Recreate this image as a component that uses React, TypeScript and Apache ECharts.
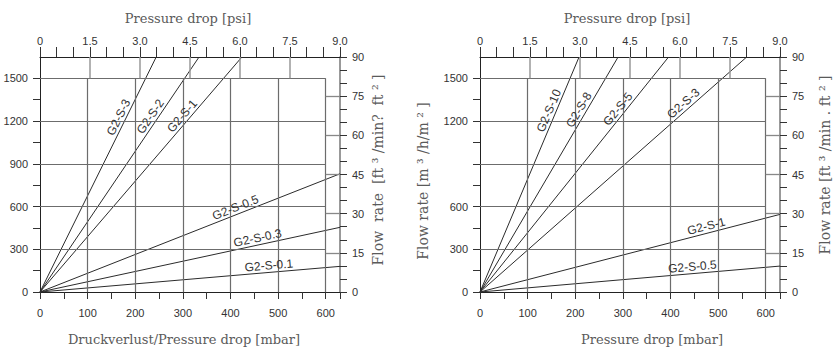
import React, { useEffect, useRef } from "react";
import * as echarts from "echarts";

// ---- tick / label values ----
const MBAR_LABELS = [0, 100, 200, 300, 400, 500, 600];
const MBAR_GRID = [100, 200, 300, 400, 500, 600];
const PSI_LABELS = [0, 1.5, 3, 4.5, 6, 7.5, 9];
const PSI_GRID = [1.5, 3, 4.5, 6, 7.5];
const FT_LABELS = [0, 15, 30, 45, 60, 75, 90];
const FT_INNER_TICKS = [15, 30, 45, 60, 75];
const FLOW_LABELS_LEFT = [0, 300, 600, 900, 1200, 1500];
const FLOW_LABELS_RIGHT = [0, 300, 600, 1200, 1500];
const FLOW_GRID = [300, 600, 900, 1200, 1500];
const FLOW_TICKS = [0, 150, 300, 450, 600, 750, 900, 1050, 1200, 1350, 1500];

// ---- series (left panel) ----
const LEFT_NAMES = ["G2-S-3", "G2-S-2", "G2-S-1", "G2-S-0.5", "G2-S-0.3", "G2-S-0.1"];
const LEFT_END_MBAR = [244, 334, 424, 630, 630, 630];
const LEFT_END_FLOW = [1650, 1650, 1650, 830, 454, 180];
const LEFT_LABEL_AT = [0.73, 0.73, 0.73, 0.66, 0.73, 0.765];

// ---- series (right panel) ----
const RIGHT_NAMES = ["G2-S-10", "G2-S-8", "G2-S-5", "G2-S-3", "G2-S-1", "G2-S-0.5"];
const RIGHT_END_MBAR = [208, 290, 396, 560, 630, 630];
const RIGHT_END_FLOW = [1650, 1650, 1650, 1650, 545, 182];
const RIGHT_LABEL_AT = [0.76, 0.76, 0.76, 0.78, 0.76, 0.71];

// ---- scales ----
const X_MAX = 630;
const Y_MAX = 1650;
const FT_MAX = 90;
const PSI_MAX = 9;
const GRID_TOP = 57;
const GRID_W = 300;
const GRID_H = 235;

const TICK_FONT = "'Liberation Sans Narrow', 'Arial Narrow', 'Liberation Sans', Arial, sans-serif";
const LABEL_FONT = "'Liberation Sans', Arial, sans-serif";
const TITLE_FONT = "'DejaVu Serif', serif";
const TICK_COLOR = "#333";
const GRID_COLOR = "#6c6c6c";

const near = (a: number, b: number) => Math.abs(a - b) < 1e-6;

function panel(p: number, gridLeft: number, names: string[], endX: number[], endY: number[], labelAt: number[], flowLabels: number[]) {
  const grid = { left: gridLeft, top: GRID_TOP, width: GRID_W, height: GRID_H, containLabel: false };
  const tickLabel = { color: TICK_COLOR, fontSize: 11, fontFamily: TICK_FONT };
  const xAxes = [
    {
      type: "value", gridIndex: p, position: "bottom", min: 0, max: X_MAX, interval: 50,
      axisLine: { show: true, onZero: false, lineStyle: { color: "#222", width: 1 } },
      axisTick: { show: true, length: 7, lineStyle: { color: "#333", width: 1 } },
      axisLabel: { ...tickLabel, margin: 15, formatter: (v: number) => (MBAR_LABELS.some((m) => near(m, v)) ? String(v) : "") },
      splitLine: { show: false },
    },
    {
      type: "value", gridIndex: p, position: "top", min: 0, max: PSI_MAX, interval: 0.5,
      axisLine: { show: true, onZero: false, lineStyle: { color: "#222", width: 1 } },
      axisTick: { show: true, length: 10, lineStyle: { color: "#333", width: 1 } },
      axisLabel: {
        ...tickLabel, margin: 11,
        formatter: (v: number) => {
          const hit = PSI_LABELS.find((m) => near(m, v));
          if (hit === undefined) return "";
          return hit === 0 ? "0" : hit.toFixed(1);
        },
      },
      splitLine: { show: false },
    },
  ];
  const yAxes = [
    {
      type: "value", gridIndex: p, position: "left", min: 0, max: Y_MAX, interval: 150,
      axisLine: { show: true, onZero: false, lineStyle: { color: "#222", width: 1 } },
      axisTick: { show: true, length: 7, customValues: FLOW_TICKS, lineStyle: { color: "#333", width: 1 } },
      axisLabel: { ...tickLabel, margin: 12, formatter: (v: number) => (flowLabels.some((m) => near(m, v)) ? String(v) : "") },
      splitLine: { show: false },
    },
    {
      type: "value", gridIndex: p, position: "right", min: 0, max: FT_MAX, interval: 5,
      axisLine: { show: true, onZero: false, lineStyle: { color: "#777", width: 1.5 } },
      axisTick: { show: true, length: 7, lineStyle: { color: "#333", width: 1 } },
      axisLabel: { ...tickLabel, margin: 12, formatter: (v: number) => (FT_LABELS.some((m) => near(m, v)) ? String(v) : "") },
      splitLine: { show: false },
    },
  ];

  const xi = 2 * p;
  const yi = 2 * p;
  const gridLines: any[] = [];
  FLOW_GRID.forEach((f) => gridLines.push([{ coord: [0, f] }, { coord: [600, f] }]));
  MBAR_GRID.forEach((m) => gridLines.push([{ coord: [m, 0] }, { coord: [m, 1500] }]));
  PSI_GRID.forEach((ps) => {
    const m = (ps / PSI_MAX) * X_MAX;
    gridLines.push([{ coord: [m, 1500], lineStyle: { color: "#999", width: 1.5 } }, { coord: [m, Y_MAX] }]);
  });
  FT_INNER_TICKS.forEach((ft) => {
    const f = (ft / FT_MAX) * Y_MAX;
    gridLines.push([{ coord: [600, f], lineStyle: { color: "#888", width: 1.3 } }, { coord: [X_MAX, f] }]);
  });

  const series: any[] = [
    {
      type: "line", xAxisIndex: xi, yAxisIndex: yi, data: [], silent: true, z: 1,
      markLine: {
        silent: true, symbol: ["none", "none"], label: { show: false },
        lineStyle: { color: GRID_COLOR, width: 1.2, type: "solid" },
        emphasis: { disabled: true },
        data: gridLines,
      },
    },
  ];

  const pxX = GRID_W / X_MAX;
  const pxY = GRID_H / Y_MAX;
  names.forEach((name, i) => {
    const ex = endX[i];
    const ey = endY[i];
    const t = labelAt[i];
    const angle = (Math.atan2(ey * pxY, ex * pxX) * 180) / Math.PI;
    series.push({
      type: "line", name, xAxisIndex: xi, yAxisIndex: yi, z: 3,
      data: [[0, 0], [ex, ey]],
      symbol: "none", silent: true,
      lineStyle: { color: "#2b2b2b", width: 1 },
      markPoint: {
        symbol: "circle", symbolSize: 0, silent: true,
        data: [{ coord: [t * ex, t * ey], value: name }],
        label: {
          show: true, position: "inside", formatter: name, rotate: angle,
          align: "center", verticalAlign: "bottom", padding: [0, 0, 1, 0],
          color: "#333", fontSize: 12, fontFamily: LABEL_FONT,
        },
      },
    });
  });

  return { grid, xAxes, yAxes, series };
}

function titleText(text: string, x: number, y: number, rotated = false, fontSize = 13) {
  return {
    type: "text", x, y, rotation: rotated ? Math.PI / 2 : 0, silent: true,
    style: {
      text, fill: "#5a5a5a", fontSize, fontFamily: TITLE_FONT,
      align: "center", verticalAlign: "middle", textAlign: "center", textVerticalAlign: "middle",
    },
  };
}

export default function App() {
  const ref = useRef<HTMLDivElement>(null);
  useEffect(() => {
    document.body.style.margin = "0";
    if (!ref.current) return;
    const chart = echarts.init(ref.current, undefined, { renderer: "svg" });
    const a = panel(0, 40, LEFT_NAMES, LEFT_END_MBAR, LEFT_END_FLOW, LEFT_LABEL_AT, FLOW_LABELS_LEFT);
    const b = panel(1, 480, RIGHT_NAMES, RIGHT_END_MBAR, RIGHT_END_FLOW, RIGHT_LABEL_AT, FLOW_LABELS_RIGHT);
    chart.setOption({
      animation: false,
      backgroundColor: "#fff",
      grid: [a.grid, b.grid],
      xAxis: [...a.xAxes, ...b.xAxes],
      yAxis: [...a.yAxes, ...b.yAxes],
      series: [...a.series, ...b.series],
      graphic: [
        titleText("Pressure drop [psi]", 188, 18),
        titleText("Druckverlust/Pressure drop [mbar]", 184, 339),
        titleText("Flow  rate  [ft ³ /min?  ft ² ]", 378, 170, true, 14),
        titleText("Pressure drop [psi]", 627, 18),
        titleText("Pressure drop [mbar]", 652, 339),
        titleText("Flow rate [m ³ /h/m ² ]", 423, 181, true, 14),
        titleText("Flow rate [ft ³ /min . ft ² ]", 825, 165, true, 14),
      ],
    });
    return () => chart.dispose();
  }, []);
  return <div ref={ref} style={{ width: 840, height: 353 }} />;
}
